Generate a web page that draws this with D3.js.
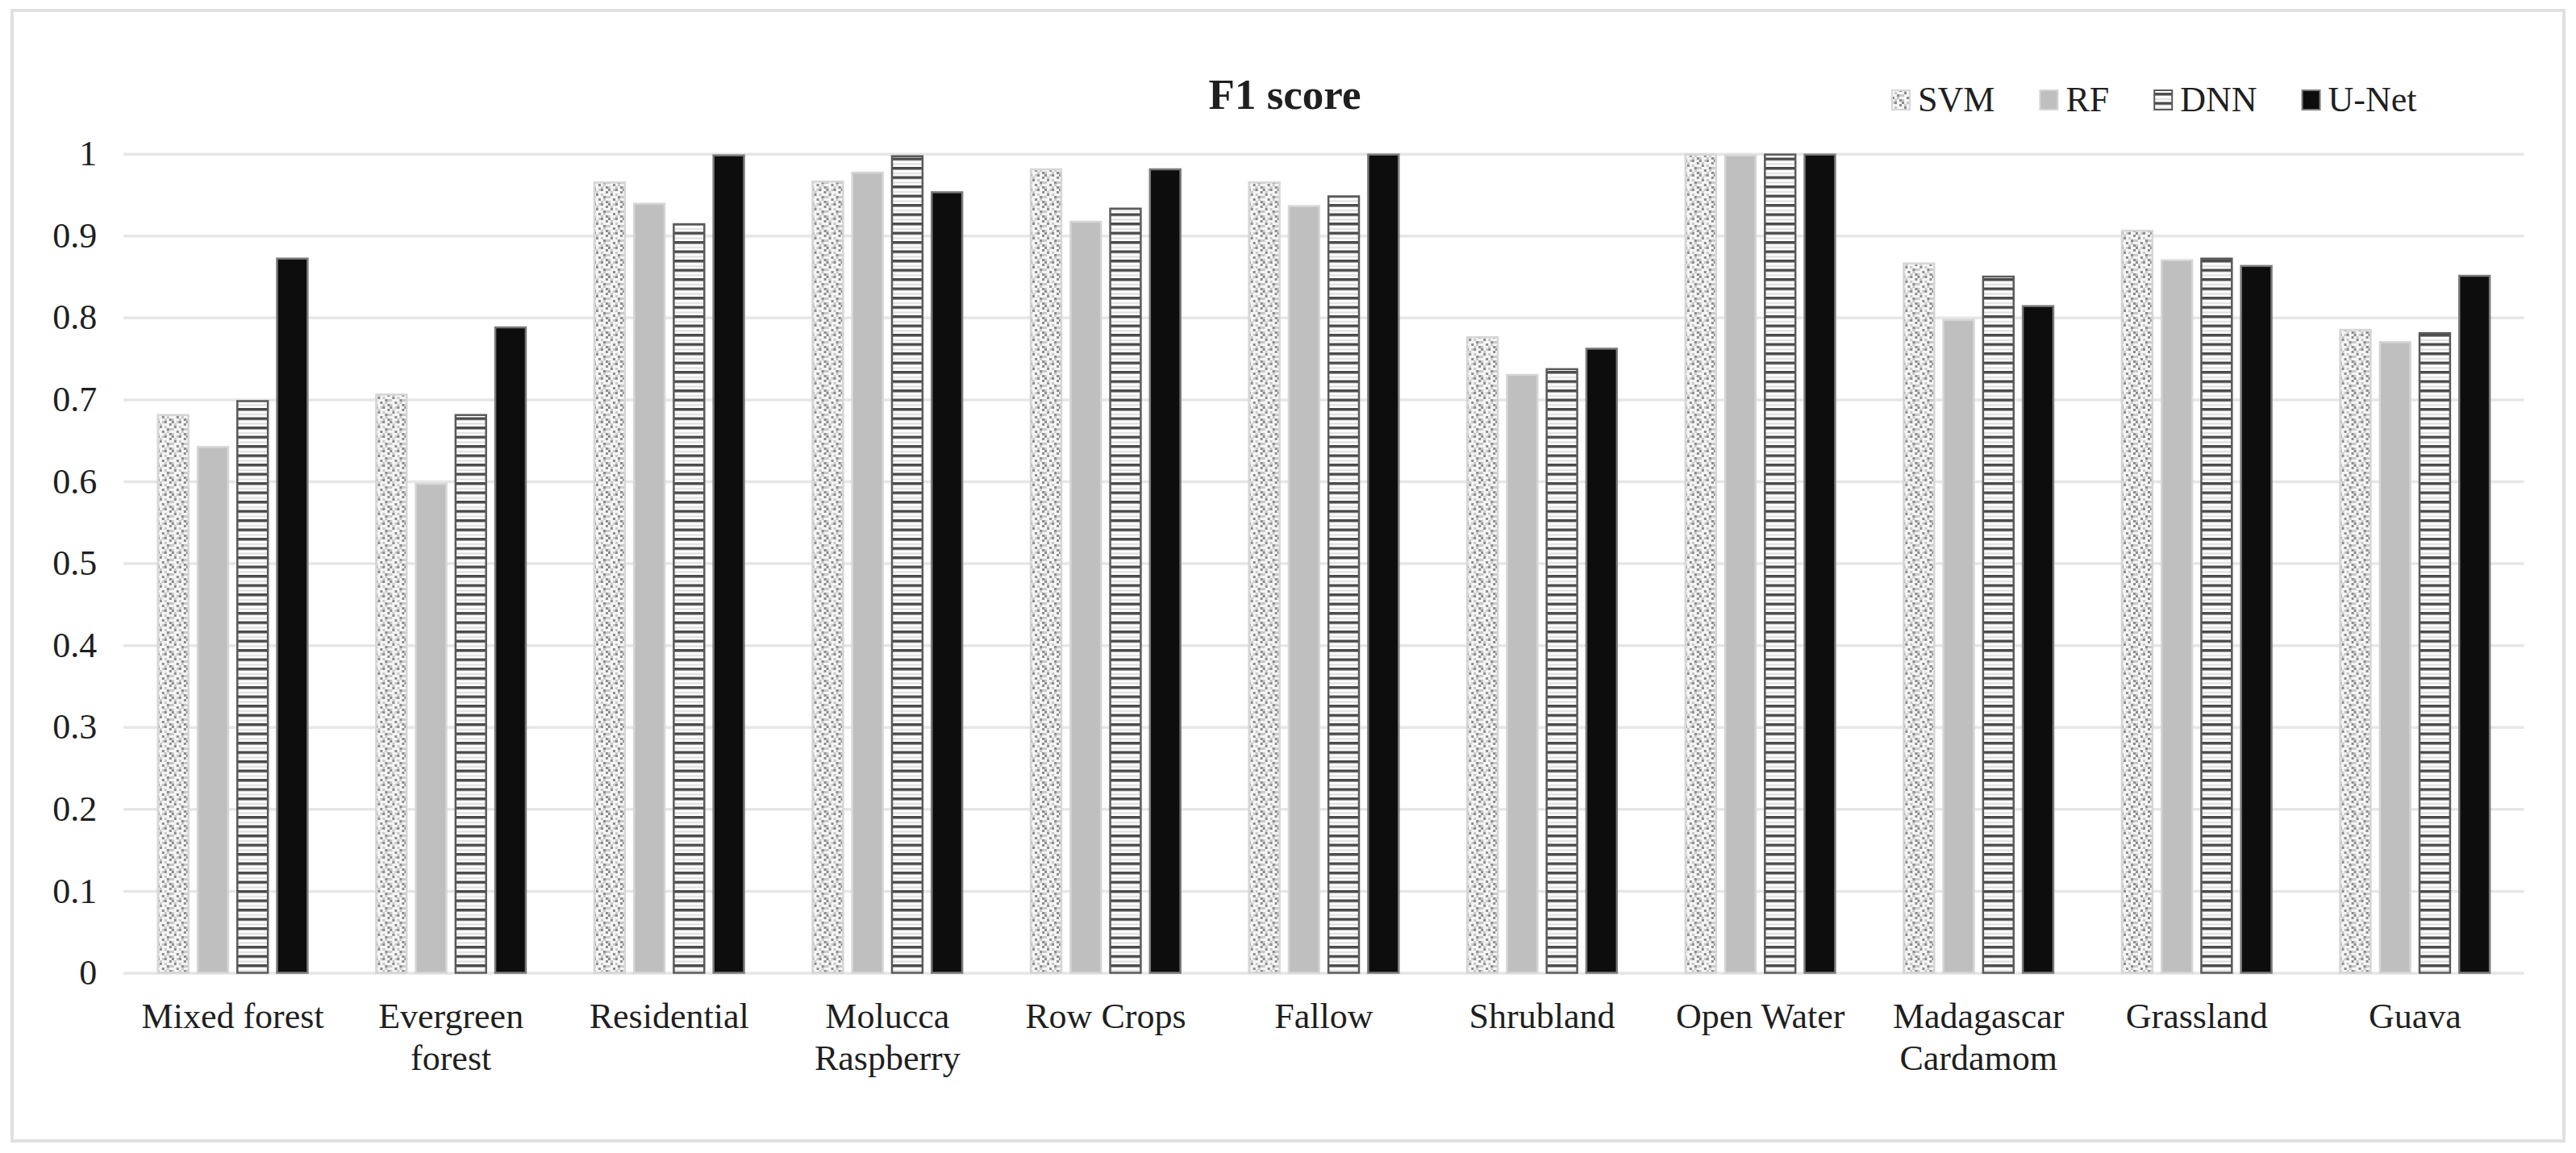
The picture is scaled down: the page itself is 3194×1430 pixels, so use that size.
<!DOCTYPE html>
<html>
<head>
<meta charset="utf-8">
<script src="https://cdn.jsdelivr.net/npm/d3@7"></script>
<style>
  body { margin: 0; background: #fff; }
  text { font-family: "Liberation Serif", "Times New Roman", serif; fill: #1f1f1f; }
</style>
</head>
<body>
<div id="chart-area"><svg></svg></div>
<script>
const categories = ['Mixed forest', 'Evergreen forest', 'Residential', 'Molucca Raspberry', 'Row Crops',
  'Fallow', 'Shrubland', 'Open Water', 'Madagascar Cardamom', 'Grassland', 'Guava'];
const seriesNames = ['SVM', 'RF', 'DNN', 'U-Net'];

const svmScores = [0.682, 0.707, 0.966, 0.967, 0.982, 0.966, 0.777, 1.0, 0.867, 0.907, 0.786];
const rfScores = [0.643, 0.598, 0.940, 0.978, 0.918, 0.937, 0.731, 0.999, 0.798, 0.871, 0.771];
const dnnScores = [0.699, 0.682, 0.915, 0.998, 0.934, 0.949, 0.738, 1.0, 0.851, 0.873, 0.782];
const unetScores = [0.873, 0.789, 0.999, 0.954, 0.982, 1.0, 0.763, 1.0, 0.815, 0.864, 0.852];

const yTickValues = [0, 0.1, 0.2, 0.3, 0.4, 0.5, 0.6, 0.7, 0.8, 0.9, 1];
const yTickLabels = ['0', '0.1', '0.2', '0.3', '0.4', '0.5', '0.6', '0.7', '0.8', '0.9', '1'];

const chartSize = { width: 3194, height: 1430 };
const plot = { left: 153.3, right: 3129.6, top: 190.7, bottom: 1206.5 };

const styles = {
  'SVM': { fill: 'url(#svm-dots)', stroke: '#d6d6d6' },
  'RF': { fill: '#bfbfbf', stroke: '#d6d6d6' },
  'DNN': { fill: 'url(#dnn-lines)', stroke: '#5a5a5a' },
  'U-Net': { fill: '#0d0d0d', stroke: '#7a7a7a' },
};

const addPatterns = (svg) => {
  const defs = svg.append('defs');

  // speckled fill for SVM (hand placed cells on a 6x6 grid)
  const dots = defs.append('pattern')
    .attr('id', 'svm-dots')
    .attr('patternUnits', 'userSpaceOnUse')
    .attr('width', 18).attr('height', 18);
  dots.append('rect').attr('width', 18).attr('height', 18).attr('fill', '#f5f5f5');
  const dark = '#8c8c8c', light = '#c9c9c9';
  const cells = [
    [0, 0, dark], [3, 0, dark], [5, 1, dark], [1, 2, dark], [4, 3, dark], [2, 4, dark], [5, 5, dark],
    [2, 0, light], [1, 1, light], [3, 2, light], [0, 3, light], [5, 3, light], [4, 4, light],
    [0, 5, light], [3, 5, light],
  ];
  dots.selectAll('rect.cell')
    .data(cells)
    .enter()
    .append('rect')
    .attr('class', 'cell')
    .attr('x', d => d[0] * 3).attr('y', d => d[1] * 3)
    .attr('width', 3).attr('height', 3)
    .attr('fill', d => d[2]);

  // horizontal stripes for DNN
  const lines = defs.append('pattern')
    .attr('id', 'dnn-lines')
    .attr('patternUnits', 'userSpaceOnUse')
    .attr('width', 10).attr('height', 11.5);
  lines.append('rect').attr('width', 10).attr('height', 11.5).attr('fill', '#ffffff');
  lines.append('rect').attr('y', 0).attr('width', 10).attr('height', 3.5).attr('fill', '#4a4a4a');
  lines.append('rect').attr('y', 7).attr('width', 10).attr('height', 2).attr('fill', '#dcdcdc');
};

const wrap = (texts, maxWidth, lineHeight, firstY) => {
  texts.each(function () {
    const text = d3.select(this);
    const words = text.text().split(' ');
    text.text(null).attr('y', firstY).attr('dy', null);
    let line = [];
    let tspan = text.append('tspan').attr('x', 0).attr('y', firstY);
    let lineNo = 0;
    words.forEach(word => {
      line.push(word);
      tspan.text(line.join(' '));
      if (tspan.node().getComputedTextLength() > maxWidth && line.length > 1) {
        line.pop();
        tspan.text(line.join(' '));
        line = [word];
        lineNo++;
        tspan = text.append('tspan').attr('x', 0).attr('y', firstY + lineNo * lineHeight).text(word);
      }
    });
  });
};

const drawChart = () => {
  const rows = categories.map((name, i) => ({
    name,
    'SVM': svmScores[i],
    'RF': rfScores[i],
    'DNN': dnnScores[i],
    'U-Net': unetScores[i],
  }));

  const svg = d3.select('#chart-area svg')
    .attr('width', chartSize.width)
    .attr('height', chartSize.height);

  addPatterns(svg);

  svg.append('rect')
    .attr('x', 15).attr('y', 13)
    .attr('width', chartSize.width - 30).attr('height', 1402)
    .attr('fill', '#fff')
    .attr('stroke', '#e0e0e0')
    .attr('stroke-width', 4);

  const x0 = d3.scaleBand()
    .domain(categories)
    .range([plot.left, plot.right])
    .paddingInner(0.3067)
    .paddingOuter(0.3067 / 2);

  const x1 = d3.scaleBand()
    .domain(seriesNames)
    .range([0, x0.bandwidth()])
    .paddingInner(0.19)
    .paddingOuter(0);

  const y = d3.scaleLinear()
    .domain([0, 1])
    .range([plot.bottom, plot.top]);

  const yAxis = d3.axisLeft(y)
    .tickValues(yTickValues)
    .tickFormat((d, i) => yTickLabels[i])
    .tickSize(-(plot.right - plot.left))
    .tickPadding(33);

  const yg = svg.append('g')
    .attr('class', 'y-axis')
    .attr('transform', `translate(${plot.left},0)`)
    .call(yAxis)
    .attr('font-family', null);
  yg.select('.domain').remove();
  yg.selectAll('.tick line')
    .attr('stroke', '#e6e6e6')
    .attr('stroke-width', 3.5);
  yg.selectAll('.tick text')
    .attr('font-size', 44)
    .attr('dy', '0.32em')
    .attr('fill', '#1f1f1f');

  const groups = svg.append('g')
    .selectAll('g')
    .data(rows)
    .enter()
    .append('g')
    .attr('transform', r => `translate(${x0(r.name)},0)`);

  groups.selectAll('rect')
    .data(r => seriesNames.map(s => ({ series: s, value: r[s] })))
    .enter()
    .append('rect')
    .attr('x', d => x1(d.series) + 1)
    .attr('y', d => y(d.value) + 1)
    .attr('width', x1.bandwidth() - 2)
    .attr('height', d => y(0) - y(d.value) - 1)
    .attr('fill', d => styles[d.series].fill)
    .attr('stroke', d => styles[d.series].stroke)
    .attr('stroke-width', 2.5);

  const xAxis = d3.axisBottom(x0)
    .tickSize(0);

  const xg = svg.append('g')
    .attr('class', 'x-axis')
    .attr('transform', `translate(0,${plot.bottom})`)
    .call(xAxis)
    .attr('font-family', null);
  xg.select('.domain').remove();
  xg.selectAll('.tick text')
    .attr('font-size', 44)
    .attr('fill', '#1f1f1f')
    .call(wrap, 250, 52, 68.5);

  svg.append('text')
    .attr('x', 1593)
    .attr('y', 134.5)
    .attr('text-anchor', 'middle')
    .attr('font-size', 53)
    .attr('font-weight', 'bold')
    .text('F1 score');

  // legend
  const legend = svg.append('g').attr('class', 'legend');
  let lx = 2346;
  seriesNames.forEach(s => {
    legend.append('rect')
      .attr('x', lx).attr('y', 112)
      .attr('width', 22).attr('height', 24)
      .attr('fill', styles[s].fill)
      .attr('stroke', styles[s].stroke)
      .attr('stroke-width', 2);
    const t = legend.append('text')
      .attr('x', lx + 32).attr('y', 138)
      .attr('font-size', 44)
      .text(s);
    lx += 32 + t.node().getComputedTextLength() + 56;
  });
};

window.onload = drawChart;
</script>
</body>
</html>
